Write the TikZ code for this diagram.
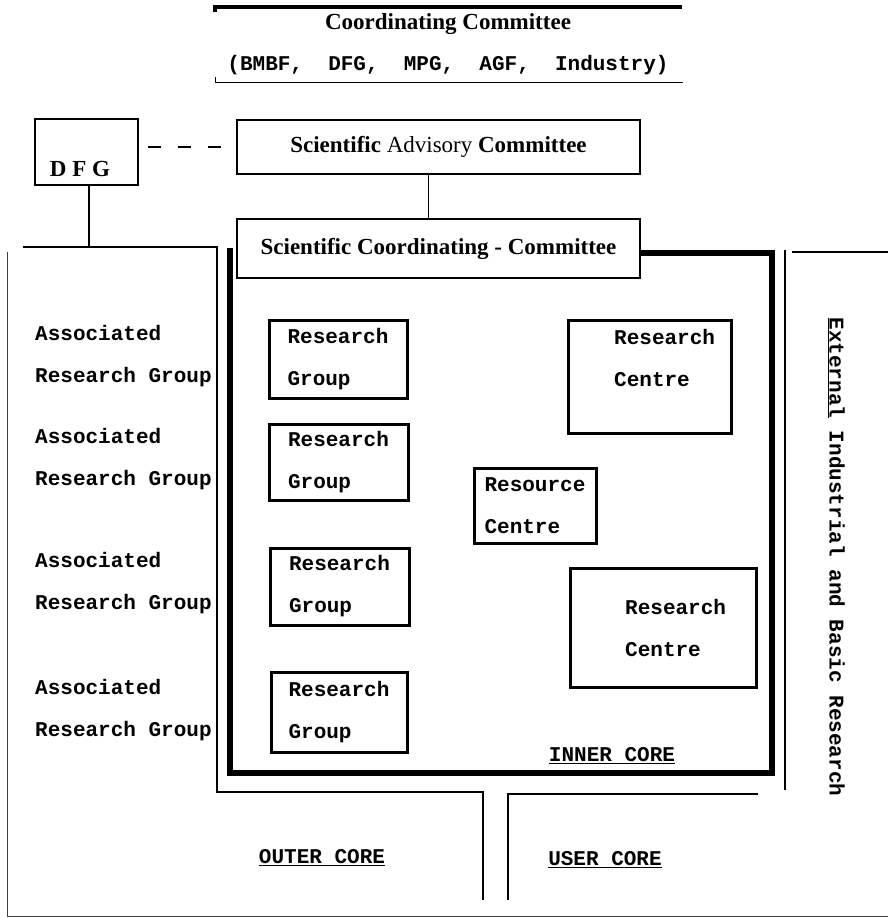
\documentclass[tikz,border=0pt]{standalone}
\usepackage{fontspec}
\setmainfont{Liberation Serif}
\setmonofont{Liberation Mono}
\newcommand{\monolab}{\fontsize{21}{42}\selectfont\ttfamily\bfseries}
\newcommand{\seriflab}{\fontsize{23}{28}\selectfont}

\begin{document}
\begin{tikzpicture}[x=1pt,y=-1pt]
\tikzstyle{every node}+=[inner sep=0pt]
\tikzstyle{mono}=[font=\monolab, align=left]
\tikzstyle{committee}=[font=\seriflab]
\tikzstyle{groupbox}=[draw, line width=3pt]
\tikzstyle{commbox}=[draw, line width=2.2pt]
\tikzstyle{thinline}=[line width=1.6pt]
\useasboundingbox (0,0) rectangle (888,918);
\draw [line width=3.5pt] (215,12) -- (215,7) -- (682,7);
\node [committee] (cc) at (448,24) {\bfseries Coordinating Committee};
\node [mono] (ccmembers) at (448,65) {(BMBF,~~DFG,~~MPG,~~AGF,~~Industry)};
\draw [line width=1pt] (215,77) -- (215,82) -- (683,82);
\node [draw, line width=1.8pt, minimum width=103, minimum height=66] (dfg) at (86.5,152) {};
\node [committee] (dfgtext) at (80,169) {\bfseries D F G};
\node [commbox, committee, minimum width=403, minimum height=54] (sac) at (438.5,147) {\textbf{Scientific} Advisory \textbf{Committee}};
\node [commbox, committee, minimum width=403, minimum height=59] (scc) at (438.5,248.5) {\bfseries Scientific Coordinating - Committee};
\draw [line width=2.2pt, dash pattern=on 13pt off 17pt] ([xshift=9pt]dfg.east |- sac.west) -- ([xshift=-7pt]sac.west);
\draw [thinline] ([xshift=-10pt]sac.south) -- ([xshift=-10pt]scc.north);
\coordinate (outertop) at (89,247);
\draw [thinline] (dfg.south -| outertop) -- (outertop);
\draw [line width=6pt] (scc.east |- 0,253) -- (772,253) -- (772,773) -- (230,773) -- (230,248);
\draw [thinline] (23,247) -- (217,247) -- (217,792) -- (483,792) -- (483,900);
\draw [line width=1pt, black!75] (7,252) -- (7,916) -- (888,916);
\draw [thinline] (508,900) -- (508,794) -- (758,794);
\draw [thinline] (785,790) -- (785,250);
\draw [thinline] (792,252) -- (888,252);
\node [mono, anchor=west] (assoc1) at (35,356) {Associated\\Research Group};
\node [mono, anchor=west] (assoc2) at (35,459) {Associated\\Research Group};
\node [mono, anchor=west] (assoc3) at (35,583) {Associated\\Research Group};
\node [mono, anchor=west] (assoc4) at (35,710) {Associated\\Research Group};
\node [groupbox, mono, minimum width=138, minimum height=78] (rg1) at (338,359) {Research\\Group};
\node [groupbox, mono, minimum width=139, minimum height=76] (rg2) at (338.5,462) {Research\\Group};
\node [groupbox, mono, minimum width=139, minimum height=77] (rg3) at (339.5,586.5) {Research\\Group};
\node [groupbox, mono, minimum width=136, minimum height=80] (rg4) at (339,712) {Research\\Group};
\node [groupbox, minimum width=163, minimum height=113] (rc1) at (649.5,376.5) {};
\node [mono, anchor=west] (rc1text) at (614,358) {Research\\Centre};
\node [groupbox, mono, minimum width=122, minimum height=75] (res) at (535,505.5) {Resource\\Centre};
\node [groupbox, minimum width=186, minimum height=119] (rc2) at (663,627.5) {};
\node [mono, anchor=west] (rc2text) at (625,628) {Research\\Centre};
\node [mono] (inner) at (612,756) {\underline{INNER CORE}};
\node [mono] (outer) at (322,858) {\underline{OUTER CORE}};
\node [mono] (user) at (605,860) {\underline{USER CORE}};
\node [mono, rotate=-90] (external) at (836,557) {\underline{External} Industrial and Basic Research};
\end{tikzpicture}
\end{document}
